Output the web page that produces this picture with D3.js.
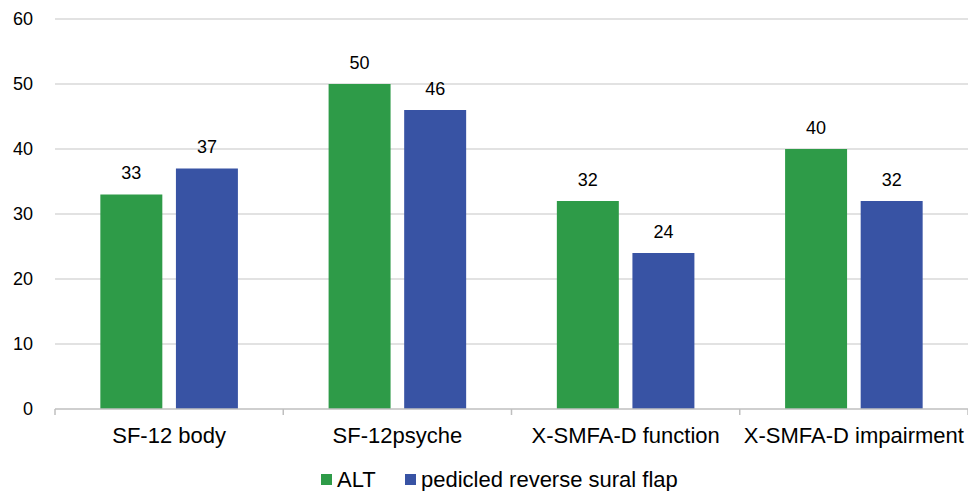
<!DOCTYPE html>
<html><head><meta charset="utf-8">
<script src="https://cdn.jsdelivr.net/npm/d3@7"></script>
<style>html,body{margin:0;padding:0;background:#fff;}</style>
</head><body>
<svg id="chart" width="968" height="491"></svg>
<script>
const categories = ["SF-12 body", "SF-12psyche", "X-SMFA-D function", "X-SMFA-D impairment"];
const seriesNames = ["ALT", "pedicled reverse sural flap"];
const altValues = [33, 50, 32, 40];
const flapValues = [37, 46, 24, 32];
const yTicks = [0, 10, 20, 30, 40, 50, 60];
const colors = ["#2e9b48", "#3853a4"];

(function () {
const svg = d3.select("#chart");
const plotLeft = 55, plotRight = 968, plotTop = 19, plotBottom = 409;
const font = "'Liberation Sans', Arial, sans-serif";

const y = d3.scaleLinear().domain([0, 60]).range([plotBottom, plotTop]);
const x0 = d3.scaleBand().domain(categories).range([plotLeft, plotRight]).padding(0);
const x1 = d3.scaleBand().domain(seriesNames).range([0, x0.bandwidth()]).paddingInner(0.18).paddingOuter(0.6);

// gridlines
svg.append("g").selectAll("line").data(yTicks.filter(d => d > 0)).join("line")
  .attr("x1", plotLeft).attr("x2", plotRight)
  .attr("y1", d => y(d)).attr("y2", d => y(d))
  .attr("stroke", "#d9d9d9").attr("stroke-width", 1.5);

// y tick labels
svg.append("g").selectAll("text").data(yTicks).join("text")
  .attr("x", 33).attr("y", d => y(d)).attr("dy", "0.35em")
  .attr("text-anchor", "end")
  .attr("font-family", font).attr("font-size", 18).attr("fill", "#000")
  .text(d => d);

const data = categories.map((c, i) => ({cat: c, vals: [
  {s: seriesNames[0], v: altValues[i], c: colors[0]},
  {s: seriesNames[1], v: flapValues[i], c: colors[1]}]}));

const groups = svg.append("g").selectAll("g").data(data).join("g")
  .attr("transform", d => `translate(${x0(d.cat)},0)`);

groups.selectAll("rect").data(d => d.vals).join("rect")
  .attr("x", d => x1(d.s)).attr("width", x1.bandwidth())
  .attr("y", d => y(d.v)).attr("height", d => y(0) - y(d.v))
  .attr("fill", d => d.c);

groups.selectAll("text").data(d => d.vals).join("text")
  .attr("x", d => x1(d.s) + x1.bandwidth() / 2)
  .attr("y", d => y(d.v) - 15.5)
  .attr("text-anchor", "middle")
  .attr("font-family", font).attr("font-size", 18).attr("fill", "#000")
  .text(d => d.v);

// x axis
const xAxis = svg.append("g");
xAxis.append("line").attr("x1", plotLeft).attr("x2", plotRight).attr("y1", plotBottom).attr("y2", plotBottom)
  .attr("stroke", "#bfbfbf").attr("stroke-width", 1.5);
const tickXs = categories.map(c => x0(c)).concat([x0(categories[categories.length - 1]) + x0.bandwidth()]);
xAxis.selectAll("line.tick").data(tickXs).join("line").attr("class", "tick")
  .attr("x1", d => d).attr("x2", d => d).attr("y1", plotBottom).attr("y2", plotBottom + 6)
  .attr("stroke", "#bfbfbf").attr("stroke-width", 1.5);
xAxis.selectAll("text").data(categories).join("text")
  .attr("x", d => x0(d) + x0.bandwidth() / 2).attr("y", 443)
  .attr("text-anchor", "middle")
  .attr("font-family", font).attr("font-size", 22).attr("fill", "#000")
  .text(d => d);

// legend
const legendX = [321, 405];
const legend = svg.append("g").selectAll("g").data(seriesNames).join("g")
  .attr("transform", (d, i) => `translate(${legendX[i]},474)`);
legend.append("rect").attr("width", 11).attr("height", 11).attr("fill", (d, i) => colors[i]);
legend.append("text").attr("x", 16).attr("y", 12.5)
  .attr("font-family", font).attr("font-size", 22).attr("fill", "#000")
  .text(d => d);
})();
</script>
</body></html>
